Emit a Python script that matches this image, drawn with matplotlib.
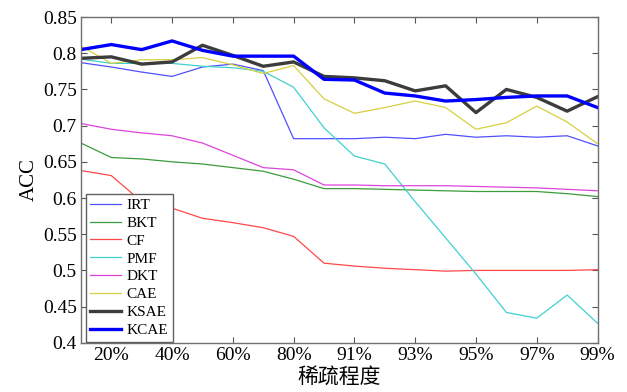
import matplotlib
matplotlib.use("Agg")
import matplotlib.pyplot as plt

plt.rcParams['font.family'] = ['Liberation Serif', 'Noto Sans CJK SC']

# sparsity levels: 10%..90%, then 91%..99%
levels = ["10%", "20%", "30%", "40%", "50%", "60%", "70%", "80%", "90%",
          "91%", "92%", "93%", "94%", "95%", "96%", "97%", "98%", "99%"]
tick_labels = ["20%", "40%", "60%", "80%", "91%", "93%", "95%", "97%", "99%"]

irt = [0.787, 0.781, 0.774, 0.768, 0.781, 0.785, 0.776, 0.682, 0.682,
       0.682, 0.684, 0.682, 0.688, 0.684, 0.686, 0.684, 0.686, 0.672]
bkt = [0.676, 0.656, 0.654, 0.650, 0.647, 0.642, 0.637, 0.626, 0.613,
       0.613, 0.612, 0.611, 0.610, 0.609, 0.609, 0.609, 0.606, 0.602]
cf = [0.638, 0.631, 0.595, 0.586, 0.572, 0.566, 0.559, 0.547, 0.510,
      0.506, 0.503, 0.501, 0.499, 0.500, 0.500, 0.500, 0.500, 0.501]
pmf = [0.792, 0.786, 0.786, 0.786, 0.782, 0.780, 0.775, 0.753, 0.697,
       0.658, 0.647, 0.595, 0.545, 0.495, 0.442, 0.434, 0.466, 0.427]
dkt = [0.703, 0.695, 0.690, 0.686, 0.676, 0.659, 0.642, 0.639, 0.618,
       0.618, 0.617, 0.617, 0.617, 0.616, 0.615, 0.614, 0.612, 0.610]
cae = [0.810, 0.786, 0.791, 0.791, 0.794, 0.784, 0.772, 0.783, 0.737,
       0.717, 0.725, 0.734, 0.725, 0.695, 0.704, 0.727, 0.705, 0.675]
ksae = [0.793, 0.795, 0.785, 0.788, 0.811, 0.797, 0.782, 0.788, 0.768,
        0.766, 0.762, 0.748, 0.755, 0.718, 0.750, 0.739, 0.720, 0.740]
kcae = [0.805, 0.812, 0.805, 0.817, 0.804, 0.796, 0.796, 0.796, 0.764,
        0.763, 0.745, 0.741, 0.734, 0.736, 0.739, 0.741, 0.741, 0.725]

x = list(range(len(levels)))

fig = plt.figure(figsize=(6.27, 3.92), dpi=100)
ax = fig.add_axes([0.129, 0.1255, 0.824, 0.831])

ax.plot(x, irt, c="#5050ff", lw=0.9, label="IRT")
ax.plot(x, bkt, c="#3c9c3c", lw=0.9, label="BKT")
ax.plot(x, cf, c="#ff4848", lw=0.9, label="CF")
ax.plot(x, pmf, c="#40d0d0", lw=0.9, label="PMF")
ax.plot(x, dkt, c="#dd44dd", lw=0.9, label="DKT")
ax.plot(x, cae, c="#d6d040", lw=0.9, label="CAE")
ax.plot(x, ksae, c="#3c3c3c", lw=2.4, label="KSAE")
ax.plot(x, kcae, c="#0000ff", lw=2.4, label="KCAE")

ax.set_xlim(0, len(levels) - 1)
ax.set_ylim(0.4, 0.85)
ax.set_xticks(x[1::2])
ax.set_xticklabels(tick_labels)
ax.set_yticks([0.4, 0.45, 0.5, 0.55, 0.6, 0.65, 0.7, 0.75, 0.8, 0.85])
ax.set_yticklabels(["0.4", "0.45", "0.5", "0.55", "0.6", "0.65", "0.7",
                    "0.75", "0.8", "0.85"])
ax.tick_params(direction="in", top=True, right=True, length=4, width=0.8,
               color="#555555", labelsize=14, pad=3)
for s in ax.spines.values():
    s.set_color("#707070")
    s.set_linewidth(1.0)

ax.set_ylabel("ACC", fontsize=15, labelpad=3)
ax.set_xlabel("稀疏程度", fontsize=15, family=["Noto Sans CJK SC"], labelpad=1)

leg = ax.legend(loc="lower left", bbox_to_anchor=(0.009, 0.004),
                fontsize=11, handlelength=2.0,
                fancybox=False, framealpha=1, edgecolor="#606060",
                borderaxespad=0, borderpad=0.3, labelspacing=0.27,
                handletextpad=0.4)
leg.get_frame().set_linewidth(1.0)

plt.savefig("out.png", dpi=100)
